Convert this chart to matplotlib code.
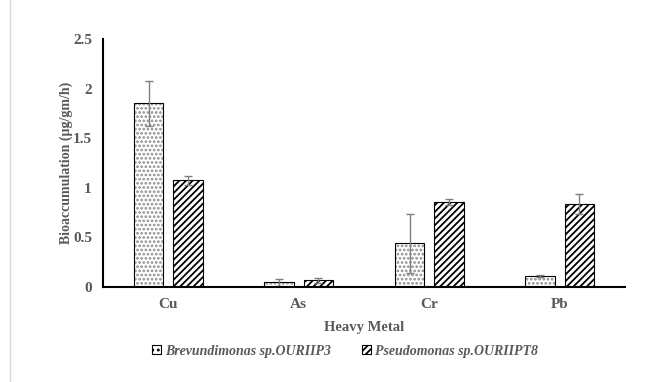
import matplotlib
matplotlib.use("Agg")
import matplotlib.pyplot as plt
import numpy as np

metals = ["Cu", "As", "Cr", "Pb"]
brev = [1.85, 0.047, 0.44, 0.108]
brev_err = [0.23, 0.035, 0.30, 0.01]
pseudo = [1.075, 0.07, 0.857, 0.834]
pseudo_err = [0.045, 0.025, 0.035, 0.10]
yticks = [0, 0.5, 1, 1.5, 2, 2.5]
ytick_labels = ["0", "0.5", "1", "1.5", "2", "2.5"]

plt.rcParams['font.family'] = ['Liberation Serif', 'DejaVu Serif']
plt.rcParams['hatch.linewidth'] = 1.3

fig = plt.figure(figsize=(6.64, 3.82), dpi=100)
ax = fig.add_axes([103/664, 1-287/382, 522/664, (287-39)/382])

x = np.arange(len(metals))
w = 0.225
off = 0.15
gray = "#595959"
# dotted fill (gray dots) then black outline on top
ax.bar(x - off, brev, w, facecolor="white", edgecolor="#8c8c8c", linewidth=0,
       hatch="....")
b1 = ax.bar(x - off, brev, w, facecolor="none", edgecolor="black", linewidth=0.8,
            label="Brevundimonas sp.OURIIP3")
b2 = ax.bar(x + off, pseudo, w, facecolor="white", edgecolor="black", linewidth=0.8,
            hatch="/////", label="Pseudomonas sp.OURIIPT8")
ax.errorbar(x - off, brev, yerr=brev_err, fmt="none", ecolor="#7f7f7f", elinewidth=1, capsize=3)
ax.errorbar(x + off, pseudo, yerr=pseudo_err, fmt="none", ecolor="#7f7f7f", elinewidth=1, capsize=3)

ax.set_xlim(-0.5, 3.5)
ax.set_ylim(0, 2.5)
ax.set_yticks(yticks)
ax.set_yticklabels(ytick_labels)
ax.set_xticks(x)
ax.set_xticklabels(metals)
ax.tick_params(length=0, labelsize=11, colors=gray, pad=8)
for lab in ax.get_xticklabels() + ax.get_yticklabels():
    lab.set_fontweight("bold")
for s in ["top", "right"]:
    ax.spines[s].set_visible(False)
for s in ["left", "bottom"]:
    ax.spines[s].set_linewidth(1.5)
    ax.spines[s].set_color("black")

ax.set_ylabel("Bioaccumulation (µg/gm/h)", fontsize=10, fontweight="bold", color=gray, labelpad=0)
ax.set_xlabel("Heavy Metal", fontsize=10.5, fontweight="bold", color=gray, labelpad=7)

from matplotlib.patches import Patch
h1 = Patch(facecolor="white", edgecolor="black", hatch="...", linewidth=0.8)
h2 = Patch(facecolor="white", edgecolor="black", hatch="/////", linewidth=0.8)
leg = fig.legend(handles=[h1, h2], labels=["Brevundimonas sp.OURIIP3", "Pseudomonas sp.OURIIPT8"],
                 loc="center", bbox_to_anchor=(345/664, 1-351/382), ncol=2,
                 frameon=False, prop={"size": 10, "weight": "bold", "style": "italic"},
                 handlelength=0.65, handleheight=0.65, handletextpad=0.3, columnspacing=2.2)
for t in leg.get_texts():
    t.set_color(gray)

fig.add_artist(plt.Line2D([10/664, 10/664], [0, 1], color="#d9d9d9", linewidth=1, transform=fig.transFigure))

fig.savefig("out.png", dpi=100)
